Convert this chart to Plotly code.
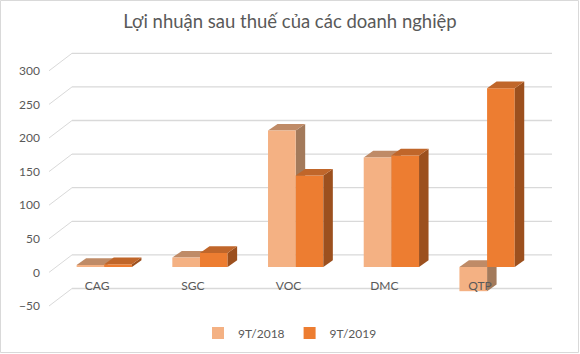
import plotly.graph_objects as go

categories = ["CAG", "SGC", "VOC", "DMC", "QTP"]
series_names = ["9T/2018", "9T/2019"]
values_2018 = [3, 14, 203, 163, -36]
values_2019 = [4, 21, 136, 166, 266]
tick_vals = [-50, 0, 50, 100, 150, 200, 250, 300]

front_colors = ["#F4B183", "#ED7D31"]
top_colors = ["#BF8B67", "#C0662A"]
side_colors = ["#A37A5B", "#9C501E"]
grid_color = "#D9D9D9"
text_color = "#595959"
FONT = "Lato"

W, H = 580, 354
L, R, T, B = 44, 24, 45, 8
pw, ph = W - L - R, H - T - B

# axis geometry
x_per_px = 1 / 95.7
x0_px = 97.2
x_range = [(L - x0_px) * x_per_px, (W - R - x0_px) * x_per_px]
u_per_px = 1 / 0.672
y_front_range = [-50 - (H - B - 306) * u_per_px, -50 + (306 - T) * u_per_px]
bar_shift = (306 - 267) * u_per_px - 50
y_bar_range = [y_front_range[0] - bar_shift, y_front_range[1] - bar_shift]
back_dy = 17.5 * u_per_px
front_x = (49 - x0_px) * x_per_px
back_x = (72 - x0_px) * x_per_px
back_x_end = (552 - x0_px) * x_per_px

bar_w = 0.289
offsets = [-0.215, -0.215 + bar_w]
dx = 9.5 * x_per_px
dy = 6.7 * u_per_px

fig = go.Figure()
all_vals = [values_2018, values_2019]
for s in range(2):
    fig.add_trace(go.Bar(
        x=list(range(len(categories))), y=all_vals[s], name=series_names[s],
        offset=offsets[s], width=bar_w, xaxis="x", yaxis="y2",
        marker=dict(color=front_colors[s], line=dict(width=0)),
    ))

shapes = []
# back wall gridlines and floor diagonals
for v in tick_vals:
    shapes.append(dict(type="line", xref="x", yref="y", x0=front_x, y0=v,
                       x1=back_x, y1=v + back_dy, layer="below",
                       line=dict(color=grid_color, width=1)))
    shapes.append(dict(type="line", xref="x", yref="y", x0=back_x, y0=v + back_dy,
                       x1=back_x_end, y1=v + back_dy, layer="below",
                       line=dict(color=grid_color, width=1.3)))

def poly(pts):
    return "M " + " L ".join(f"{px},{py}" for px, py in pts) + " Z"

for s in range(2):
    for i, v in enumerate(all_vals[s]):
        xa = i + offsets[s]
        xb = xa + bar_w
        top = max(v, 0)
        bot = min(v, 0)
        layer = "above" if s == 1 else "below"
        shapes.append(dict(type="path", xref="x", yref="y2", layer=layer,
                           path=poly([(xb, bot), (xb, top), (xb + dx, top + dy), (xb + dx, bot + dy)]),
                           fillcolor=side_colors[s], line=dict(width=0)))
        shapes.append(dict(type="path", xref="x", yref="y2", layer=layer,
                           path=poly([(xa, top), (xb, top), (xb + dx, top + dy), (xa + dx, top + dy)]),
                           fillcolor=top_colors[s], line=dict(width=0)))

# chart border
shapes.append(dict(type="rect", xref="paper", yref="paper",
                   x0=(0.5 - L) / pw, x1=(W - 1.5 - L) / pw,
                   y0=(H - B - (H - 1.5)) / ph, y1=(H - B - 0.5) / ph,
                   line=dict(color=grid_color, width=1), layer="below"))

fig.update_layout(
    width=W, height=H,
    margin=dict(l=L, r=R, t=T, b=B, autoexpand=False),
    paper_bgcolor="white", plot_bgcolor="white",
    font=dict(family=FONT, color=text_color, size=12),
    title=dict(text="Lợi nhuận sau thuế của các doanh nghiệp",
               x=0.5, xref="container", xanchor="center",
               y=1 - 22 / H, yref="container", yanchor="middle",
               font=dict(family=FONT, size=18.5, color=text_color)),
    barmode="overlay",
    xaxis=dict(range=x_range, tickvals=list(range(len(categories))), ticktext=categories,
               showgrid=False, zeroline=False, showline=False, ticks="",
               anchor="free", position=(H - B - 277) / ph,
               tickfont=dict(size=12, color=text_color)),
    yaxis=dict(range=y_front_range, tickvals=tick_vals, showgrid=False, zeroline=False,
               showline=False, ticks="", ticklabelstandoff=3,
               tickfont=dict(size=12, color=text_color)),
    yaxis2=dict(range=y_bar_range, overlaying="y", showgrid=False, zeroline=False,
                showticklabels=False, showline=False, ticks=""),
    legend=dict(orientation="h", x=(290 - L) / pw, xanchor="center",
                y=(H - B - 333) / ph, yanchor="middle",
                font=dict(size=12, color=text_color), itemwidth=30),
    shapes=shapes,
)

fig.write_html("out.html")
